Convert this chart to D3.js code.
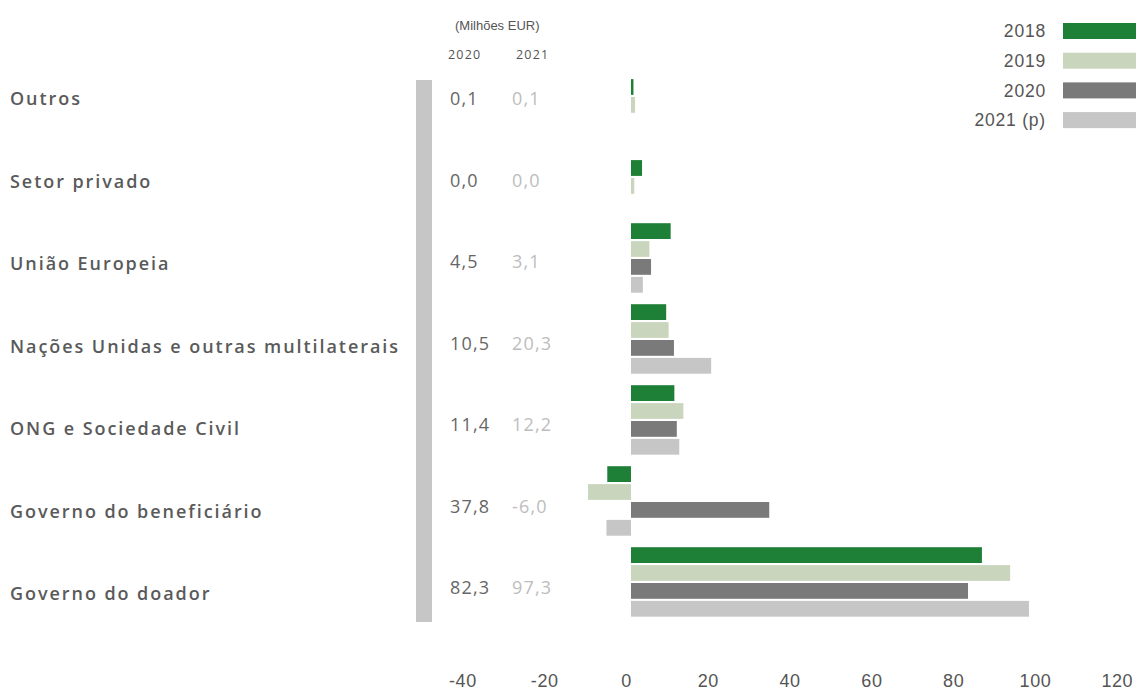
<!DOCTYPE html>
<html><head><meta charset="utf-8">
<script src="https://cdn.jsdelivr.net/npm/d3@7"></script>
<style>
html,body{margin:0;padding:0;background:#fff;}
svg{display:block;font-family:"Open Sans","Noto Sans",sans-serif;}
.hv{font-family:"Liberation Sans",Arial,sans-serif;}
</style></head>
<body>
<svg id="c" width="1136" height="690"></svg>
<script>
const categories = ["Outros","Setor privado","União Europeia","Nações Unidas e outras multilaterais","ONG e Sociedade Civil","Governo do beneficiário","Governo do doador"];
const seriesNames = ["2018","2019","2020","2021 (p)"];
const v2018 = [0.6, 2.7, 9.7, 8.6, 10.6, -5.8, 85.8];
const v2019 = [1.0, 0.8, 4.5, 9.2, 12.8, -10.5, 92.7];
const v2020 = [null, null, 4.9, 10.5, 11.2, 33.8, 82.4];
const v2021 = [null, null, 2.9, 19.6, 11.8, -6.0, 97.3];
const table2020 = ["0,1","0,0","4,5","10,5","11,4","37,8","82,3"];
const table2021 = ["0,1","0,0","3,1","20,3","12,2","-6,0","97,3"];
const tableYears = ["2020","2021"];
const unitLabel = "(Milhões EUR)";
const xTicks = [-40,-20,0,20,40,60,80,100,120];
const colors = ["#1e7f37","#c9d6bd","#7a7a7a","#c6c6c6"];

const seriesVals = [v2018, v2019, v2020, v2021];
const svg = d3.select("#c");

const x = d3.scaleLinear().domain([-40,120]).range([467.4, 1121.8]);
const yGroup = d3.scalePoint().domain(categories).range([97, 583]);
const yLabel = d3.scalePoint().domain(categories).range([99, 594]);
const yValue = d3.scalePoint().domain(categories).range([99, 588]);
const step = 17.9, barH = 15.8;

// gray separator bar
svg.append("rect").attr("x",416).attr("y",80).attr("width",16).attr("height",542).attr("fill","#c6c6c6");

// category labels
const labs = svg.append("g").selectAll("text").data(categories).join("text")
  .attr("x",10).attr("y",d=>yLabel(d)).attr("dy","0.35em")
  .attr("font-size",18).attr("font-weight",600).attr("fill","#5a5a5a")
  .text(d=>d);
{
  const w = labs.filter((d,i)=>i===3).node().getComputedTextLength();
  const ls = Math.max(0, (390 - w) / categories[3].length);
  labs.attr("letter-spacing", ls);
}

// table header
svg.append("text").attr("class","hv").attr("x",455).attr("y",25).attr("dy","0.35em").attr("font-size",13).attr("fill","#555").text(unitLabel);
svg.append("g").selectAll("text").data(tableYears).join("text")
  .attr("x",(d,i)=>i?516:448).attr("y",55).attr("dy","0.35em").attr("font-size",12.5).attr("letter-spacing",1.2).attr("fill","#555").text(d=>d);

// table values
svg.append("g").selectAll("text").data(categories).join("text")
  .attr("x",450).attr("y",d=>yValue(d)).attr("dy","0.35em").attr("font-size",18).attr("font-weight",500).attr("letter-spacing",1.2).attr("fill","#666")
  .text((d,i)=>table2020[i]);
svg.append("g").selectAll("text").data(categories).join("text")
  .attr("x",512).attr("y",d=>yValue(d)).attr("dy","0.35em").attr("font-size",18).attr("font-weight",500).attr("letter-spacing",1.2).attr("fill","#bdbdbd")
  .text((d,i)=>table2021[i]);

// bars
const barData = [];
categories.forEach((c,ci)=>{
  const present = seriesVals.map((s,si)=>({si, v:s[ci]})).filter(o=>o.v!==null);
  const n = present.length;
  const top = yGroup(c) - n*step/2;
  present.forEach((o,k)=>barData.push({c, si:o.si, v:o.v, y: top + k*step}));
});
svg.append("g").selectAll("rect").data(barData).join("rect")
  .attr("x",d=>x(Math.min(0,d.v))).attr("width",d=>Math.abs(x(d.v)-x(0)))
  .attr("y",d=>d.y).attr("height",barH).attr("fill",d=>colors[d.si]);

// axis
const ax = svg.append("g").attr("transform","translate(-5,681)")
  .call(d3.axisBottom(x).tickValues(xTicks).tickSize(0).tickPadding(0).tickFormat(d=>String(d)));
ax.select(".domain").remove();
ax.attr("font-family",null).attr("font-size",null);
ax.selectAll("text").attr("class","hv").attr("font-size",18).attr("letter-spacing",0.6).attr("fill","#555").attr("dy","0.35em");

// legend
const lg = svg.append("g").selectAll("g").data(seriesNames).join("g")
  .attr("transform",(d,i)=>`translate(0,${31+i*29.7})`);
lg.append("rect").attr("x",1063).attr("y",-8).attr("width",73).attr("height",16).attr("fill",(d,i)=>colors[i]);
lg.append("text").attr("class","hv").attr("x",1046).attr("dy","0.35em").attr("text-anchor","end").attr("font-size",17.5).attr("letter-spacing",0.8).attr("fill","#555").text(d=>d);
</script>
</body></html>
